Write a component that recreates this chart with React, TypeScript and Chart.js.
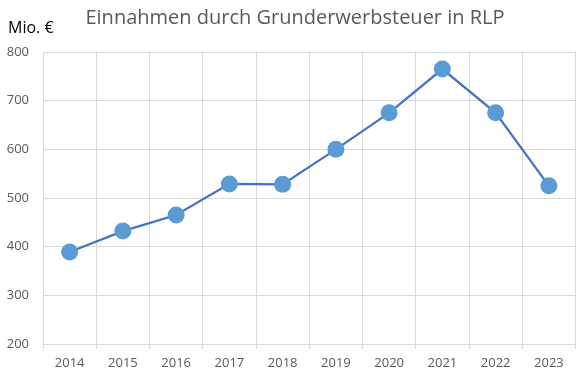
import React, { useEffect, useRef } from "react";
import { Chart, registerables } from "chart.js";

Chart.register(...registerables);

const titleText = "Einnahmen durch Grunderwerbsteuer in RLP";
const unitLabel = "Mio. €";
const years = ["2014", "2015", "2016", "2017", "2018", "2019", "2020", "2021", "2022", "2023"];
const revenue = [389, 432, 465, 529, 528, 600, 675, 765, 675, 525];
const yMin = 200;
const yMax = 800;
const yStep = 100;

const FONT = "'Open Sans', 'Noto Sans', sans-serif";

const textPlugin = {
  id: "headerTexts",
  afterDraw(chart: any) {
    const ctx = chart.ctx;
    ctx.save();
    ctx.textBaseline = "middle";
    ctx.fillStyle = "#595959";
    ctx.font = `20px ${FONT}`;
    ctx.textAlign = "center";
    ctx.fillText(titleText, 295, 18);
    ctx.fillStyle = "#000000";
    ctx.font = `16px ${FONT}`;
    ctx.textAlign = "left";
    ctx.fillText(unitLabel, 8, 28);
    ctx.restore();
  },
};

export default function App() {
  const ref = useRef<HTMLCanvasElement | null>(null);
  useEffect(() => {
    if (!ref.current) return;
    const chart = new Chart(ref.current, {
      type: "line",
      data: {
        labels: years,
        datasets: [
          {
            data: revenue,
            borderColor: "#4472C4",
            borderWidth: 2.25,
            backgroundColor: "#5B9BD5",
            pointBackgroundColor: "#5B9BD5",
            pointBorderColor: "#5B9BD5",
            pointBorderWidth: 0,
            pointRadius: 8.5,
            pointHoverRadius: 8.5,
            tension: 0,
          },
        ],
      },
      options: {
        animation: false,
        responsive: false,
        layout: { padding: { top: 52, left: 7, right: 7, bottom: 0 } },
        plugins: { legend: { display: false }, title: { display: false }, tooltip: { enabled: false } },
        scales: {
          x: {
            offset: true,
            grid: { offset: true, color: "#d9d9d9", tickLength: 5, drawTicks: true },
            border: { color: "#d9d9d9" },
            ticks: { color: "#595959", font: { family: FONT, size: 13 }, padding: 6, maxRotation: 0 },
            afterFit: (scale: any) => {
              scale.height = 30;
            },
          },
          y: {
            min: yMin,
            max: yMax,
            grid: { color: "#d9d9d9", drawTicks: false },
            border: { color: "#d9d9d9" },
            ticks: { stepSize: yStep, color: "#595959", font: { family: FONT, size: 13 }, padding: 14 },
            afterFit: (scale: any) => {
              scale.width = 36;
            },
          },
        },
      },
      plugins: [textPlugin],
    });
    return () => chart.destroy();
  }, []);
  return (
    <div style={{ position: "fixed", left: 0, top: 0, width: 584, height: 374, background: "#fff" }}>
      <canvas ref={ref} width={584} height={374} />
    </div>
  );
}
